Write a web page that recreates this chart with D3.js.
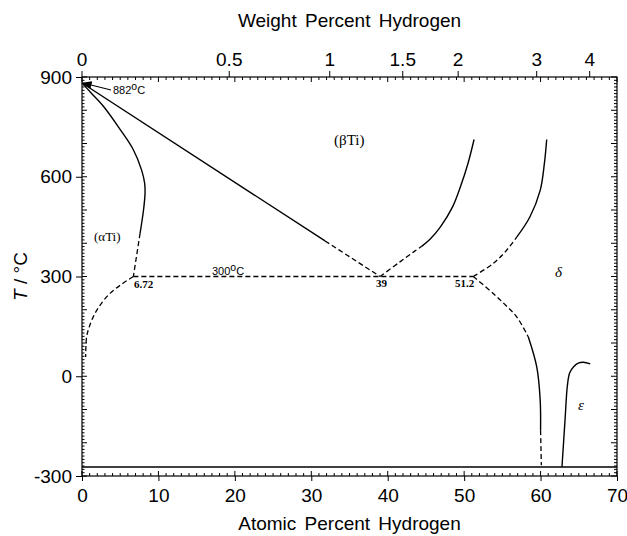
<!DOCTYPE html>
<html><head><meta charset="utf-8">
<script src="https://cdn.jsdelivr.net/npm/d3@7"></script>
<style>body{margin:0;background:#fff}svg{display:block}text{fill:#000}</style>
</head><body>
<script>
// ---- data ----
const atTicks = [0,10,20,30,40,50,60,70];
const tempTicks = [-300,0,300,600,900];
const wtTicks = [0,0.5,1,1.5,2,3,4];
const wtLabels = ["0","0.5","1","1.5","2","3","4"];

const alphaUpperSolid = [[0,882],[1.2,852],[2.8,812],[5.0,742],[6.7,682],[7.8,620],[8.2,580],[8.25,550],[8.05,500],[7.6,430]];
const alphaUpperDash = [[7.6,430],[6.72,300]];
const alphaLowerDash = [[6.72,300],[5.2,277],[3.7,250],[2.4,215],[1.5,180],[0.9,145],[0.6,118],[0.48,58]];
const betaTransusSolid = [[0,882],[31.8,407]];
const betaTransusDash = [[31.8,407],[39,300]];
const eutectoidDash = [[6.72,300],[51.2,300]];
const betaDeltaDash = [[39,300],[41.6,344],[43.4,374],[44.4,390]];
const betaDeltaSolid = [[44.4,390],[45.5,411],[46.9,449],[48.5,510],[49.5,569],[50.5,640],[51.3,712]];
const deltaUpperDash = [[51.2,300],[53.8,339],[55.4,375],[56.9,419]];
const deltaUpperSolid = [[56.9,419],[58.6,479],[59.95,559],[60.5,640],[60.8,712]];
const deltaLowerDash = [[51.2,300],[53.8,249],[55.5,212],[56.9,178],[58.4,118]];
const deltaLowerSolid = [[58.4,118],[59.5,28],[59.95,-72],[60.0,-162]];
const deltaLowerDash2 = [[60.0,-162],[60.1,-268]];
const epsilonSolid = [[62.8,-273],[63.2,-132],[63.5,-30],[63.8,10],[64.3,28],[65.0,40],[65.6,42],[66.5,37]];
const zeroKelvin = [[0,-273],[70,-273]];

const W = 627, H = 536;
const m = {l:82, r:10, t:77, b:60};
const svg = d3.select("body").append("svg").attr("width",W).attr("height",H);
const x = d3.scaleLinear().domain([0,70]).range([m.l, W-m.r]);
const y = d3.scaleLinear().domain([-300,900]).range([H-m.b, m.t]);
const wtToAt = w => { const h = w/1.008, t = (100-w)/47.867; return 100*h/(h+t); };

const font = "Arial, 'Liberation Sans', sans-serif";
const serif = "'Liberation Serif', 'DejaVu Serif', serif";

// frame
svg.append("rect").attr("x",m.l).attr("y",m.t).attr("width",W-m.r-m.l).attr("height",H-m.b-m.t)
  .attr("fill","none").attr("stroke","#000").attr("stroke-width",1.2);

const g = svg.append("g").attr("stroke","#000").attr("stroke-width",1);
for (let a=0;a<=70;a++){
  const major = a%10===0, len = major?5:3;
  g.append("line").attr("x1",x(a)).attr("x2",x(a)).attr("y1",y(-300)).attr("y2",y(-300)-len);
  g.append("line").attr("x1",x(a)).attr("x2",x(a)).attr("y1",y(900)).attr("y2",y(900)+len);
}
const xAxis = d3.axisBottom(x).tickValues(atTicks).tickSize(5).tickFormat(d=>String(d));
svg.append("g").attr("transform",`translate(0,${y(-300)})`).call(xAxis)
  .call(s=>s.select(".domain").remove())
  .call(s=>s.selectAll("text").attr("fill","#000").attr("font-family",font).attr("font-size",19).attr("dy","0.95em"));
const topG = svg.append("g").attr("transform",`translate(0,${y(900)})`);
wtTicks.forEach((w,i)=>{
  const px = x(wtToAt(w));
  topG.append("line").attr("x1",px).attr("x2",px).attr("y1",0).attr("y2",-6).attr("stroke","#000");
  topG.append("text").attr("x",px).attr("y",-11).attr("text-anchor","middle").attr("fill","#000")
    .attr("font-family",font).attr("font-size",19).text(wtLabels[i]);
});
for (let t=-300;t<=900;t+=10){
  const major = t%100===0, len = major?5:2.5;
  g.append("line").attr("x1",x(0)).attr("x2",x(0)+len).attr("y1",y(t)).attr("y2",y(t));
  g.append("line").attr("x1",x(70)).attr("x2",x(70)-(major?6:3)).attr("y1",y(t)).attr("y2",y(t));
}
const yAxis = d3.axisLeft(y).tickValues(tempTicks).tickSize(6).tickFormat(d=>String(d));
svg.append("g").attr("transform",`translate(${x(0)},0)`).call(yAxis)
  .call(s=>s.select(".domain").remove())
  .call(s=>s.selectAll("text").attr("fill","#000").attr("font-family",font).attr("font-size",19).attr("x",-10));

svg.append("text").attr("x",(m.l+W-m.r)/2).attr("y",27).attr("text-anchor","middle").attr("fill","#000")
  .attr("font-family",font).attr("font-size",19).attr("word-spacing",3).text("Weight Percent Hydrogen");
svg.append("text").attr("x",(m.l+W-m.r)/2).attr("y",530).attr("text-anchor","middle").attr("fill","#000")
  .attr("font-family",font).attr("font-size",19).attr("word-spacing",3).text("Atomic Percent Hydrogen");
const yt = svg.append("text").attr("transform",`translate(27,${y(300)}) rotate(-90)`).attr("text-anchor","middle")
  .attr("fill","#000").attr("font-family",font).attr("font-size",19);
yt.append("tspan").attr("font-style","italic").text("T");
yt.append("tspan").text(" / °C");

const line = d3.line().x(d=>x(d[0])).y(d=>y(d[1])).curve(d3.curveCatmullRom.alpha(0.5));
const solid = [alphaUpperSolid,betaTransusSolid,betaDeltaSolid,deltaUpperSolid,deltaLowerSolid,epsilonSolid,zeroKelvin];
const dashed = [alphaUpperDash,alphaLowerDash,betaTransusDash,eutectoidDash,betaDeltaDash,deltaUpperDash,deltaLowerDash,deltaLowerDash2];
solid.forEach(d=>svg.append("path").attr("d",line(d)).attr("fill","none").attr("stroke","#000").attr("stroke-width",1.4));
dashed.forEach(d=>svg.append("path").attr("d",line(d)).attr("fill","none").attr("stroke","#000").attr("stroke-width",1.3).attr("stroke-dasharray","5,3"));

svg.append("defs").append("marker").attr("id","ah").attr("viewBox","0 0 10 10").attr("refX",9).attr("refY",5)
  .attr("markerWidth",8).attr("markerHeight",8).attr("orient","auto")
  .append("path").attr("d","M0,1 L10,5 L0,9 Z").attr("fill","#000");
svg.append("line").attr("x1",111).attr("y1",90).attr("x2",x(0)+1).attr("y2",y(882))
  .attr("stroke","#000").attr("stroke-width",1.2).attr("marker-end","url(#ah)");

function degLabel(px,py,num,size){
  const t = svg.append("text").attr("x",px).attr("y",py).attr("fill","#000").attr("font-family",font).attr("font-size",size);
  t.append("tspan").text(num);
  t.append("tspan").attr("dy",-4).attr("font-size",size*0.95).text("o");
  t.append("tspan").attr("dy",4).text("C");
}
degLabel(113,94,"882",11);
degLabel(212,275,"300",11);

const small = [["6.72",134,288],["39",376,287],["51.2",455,287]];
small.forEach(s=>svg.append("text").attr("x",s[1]).attr("y",s[2]).attr("fill","#000").attr("font-family",serif).attr("font-size",11).attr("font-weight","bold").text(s[0]));

svg.append("text").attr("x",94).attr("y",241).attr("fill","#000").attr("font-family",serif).attr("font-size",13).text("(αTi)");
svg.append("text").attr("x",334).attr("y",145).attr("fill","#000").attr("font-family",serif).attr("font-size",15).text("(βTi)");
svg.append("text").attr("x",555).attr("y",277).attr("fill","#000").attr("font-family",serif).attr("font-style","italic").attr("font-size",15).text("δ");
svg.append("text").attr("x",578).attr("y",410).attr("fill","#000").attr("font-family",serif).attr("font-style","italic").attr("font-size",15).text("ε");
</script>
</body></html>
